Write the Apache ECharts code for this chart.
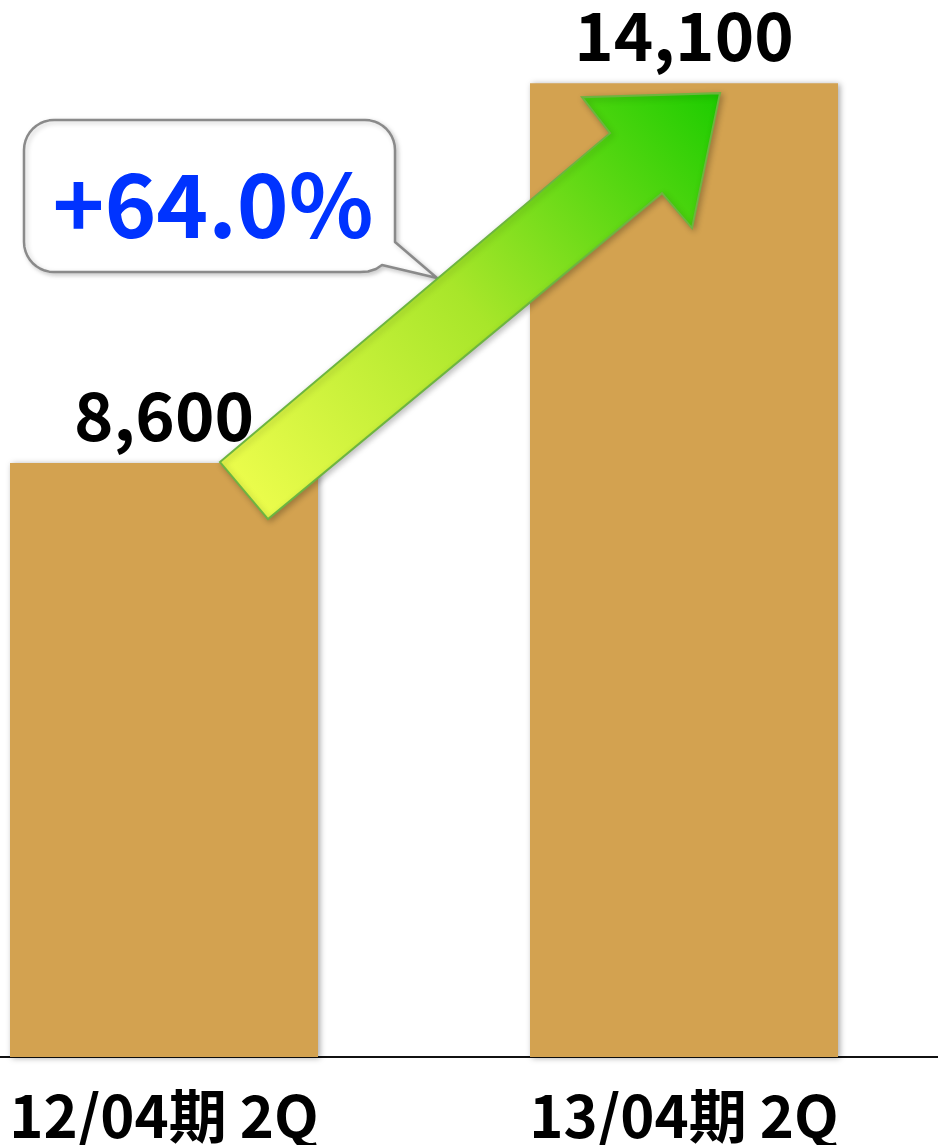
<!DOCTYPE html>
<html><head><meta charset="utf-8">
<script src="https://cdn.jsdelivr.net/npm/echarts@6/dist/echarts.min.js"></script>
<style>html,body{margin:0;padding:0;background:#fff}#c{width:938px;height:1145px}</style>
</head><body><div id="c"></div>
<script>
const categories = ['12/04期 2Q', '13/04期 2Q'];
const values = [8600, 14100];
const growthLabel = '+64.0%';

const FONT = '"Noto Sans CJK JP", "Noto Sans", sans-serif';
const chart = echarts.init(document.getElementById('c'), null, {renderer: 'canvas'});
chart.setOption({
  animation: false,
  grid: {left: -96, width: 1040, top: 21, bottom: 88, outerBoundsMode: 'none', containLabel: false},
  xAxis: {
    type: 'category', data: categories,
    axisLine: {lineStyle: {color: '#111', width: 2}},
    axisTick: {show: false},
    axisLabel: {fontFamily: FONT, fontWeight: 'bold', fontSize: 58, color: '#000', margin: 30}
  },
  yAxis: {type: 'value', min: 0, max: 15000, show: false, splitLine: {show: false}},
  series: [{
    type: 'bar', data: values, barWidth: 308,
    itemStyle: {color: '#D3A250', shadowBlur: 6, shadowColor: 'rgba(0,0,0,0.35)', shadowOffsetX: 2, shadowOffsetY: 1},
    label: {show: true, position: 'top', distance: 14, fontFamily: FONT, fontWeight: 'bold', fontSize: 67, color: '#000',
      formatter: p => p.value.toLocaleString('en-US')}
  }]
});

function arc(cx, cy, r, a0, a1, n) {
  const out = [];
  for (let i = 0; i <= n; i++) {
    const a = (a0 + (a1 - a0) * i / n) * Math.PI / 180;
    out.push([cx + r * Math.cos(a), cy + r * Math.sin(a)]);
  }
  return out;
}

function drawAnnot() {
  const p1 = chart.convertToPixel({seriesIndex: 0}, [0, values[0]]);
  const p2 = chart.convertToPixel({seriesIndex: 0}, [1, values[1]]);
  const ox = p1[0], oy = p1[1];
  const tx = p2[0], ty = p2[1];
  const pts = [
    [ox + 56, oy - 1],
    [tx - 74, ty + 50],
    [tx - 102, ty + 14],
    [tx + 36, ty + 10],
    [tx + 8, ty + 145],
    [tx - 22, ty + 110],
    [ox + 104, oy + 56]
  ];
  const L = 24, R = 395, T = 120, B = 272, r = 30;
  const bubble = [].concat(
    arc(L + r, T + r, r, 180, 270, 10),
    arc(R - r, T + r, r, 270, 360, 10),
    [[R, 242], [437, 278], [382, 265], [376, 269], [368, 271.5], [360, B]],
    arc(L + r, B - r, r, 90, 180, 10)
  );
  chart.setOption({
    graphic: [
      {
        type: 'polygon', z: 100,
        shape: {points: pts},
        style: {
          fill: {type: 'linear', x: 0, y: 1, x2: 1, y2: 0, colorStops: [
            {offset: 0, color: '#F4FF50'}, {offset: 0.5, color: '#A8E62A'}, {offset: 1, color: '#1CCC00'}
          ]},
          stroke: '#6DB540', lineWidth: 2,
          shadowBlur: 6, shadowColor: 'rgba(0,0,0,0.25)', shadowOffsetX: 2, shadowOffsetY: 2
        }
      },
      {
        type: 'polygon', z: 90,
        shape: {points: bubble},
        style: {fill: '#fff', stroke: '#8a8a8a', lineWidth: 2.5, lineJoin: 'round',
          shadowBlur: 5, shadowColor: 'rgba(0,0,0,0.2)', shadowOffsetX: 2, shadowOffsetY: 2}
      },
      {
        type: 'text', z: 110, x: 213, y: 205,
        style: {text: growthLabel, fontFamily: FONT, fontWeight: 'bold', fontSize: 88, fill: '#0033FF',
          align: 'center', verticalAlign: 'middle'}
      }
    ]
  });
}
drawAnnot();
</script></body></html>
